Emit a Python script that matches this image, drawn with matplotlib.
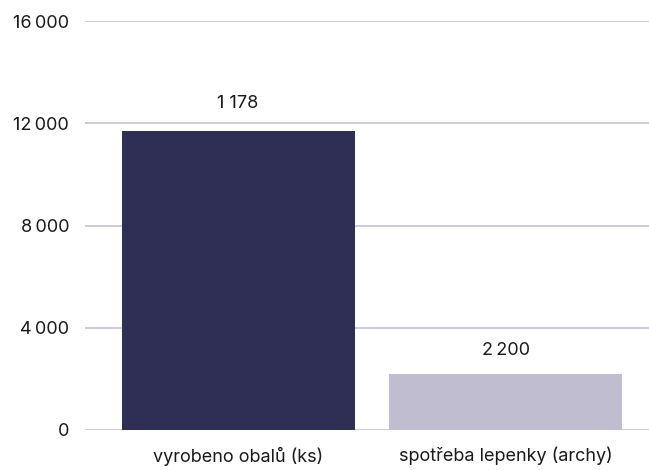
import matplotlib.pyplot as plt

# values
categories = ["vyrobeno obalů (ks)", "spotřeba lepenky (archy)"]
values = [11700, 2200]
value_labels = ["1 178", "2\u202f200"]
yticks = [0, 4000, 8000, 12000, 16000]
ytick_labels = ["0", "4\u202f000", "8\u202f000", "12\u202f000", "16\u202f000"]
colors = ["#2f2f55", "#c1bdd0"]

plt.rcParams['font.family'] = ['Inter', 'DejaVu Sans']

fig = plt.figure(figsize=(6.49, 4.70), dpi=100)
ax = fig.add_axes([85/649, 40/470, 564/649, 408.7/470])

x = range(len(categories))
bars = ax.bar(x, values, width=0.871, color=colors, zorder=2)

# value labels above the bars (baseline offset in pixels)
offsets = [23, 19]
for b, lab, off in zip(bars, value_labels, offsets):
    ax.annotate(lab, (b.get_x() + b.get_width()/2, b.get_height()),
                xytext=(0, off), textcoords='offset pixels',
                ha='center', va='baseline', fontsize=13, color='#1a1a1a')

ax.set_xlim(-0.572, 1.536)
ax.set_ylim(0, 16000)
ax.set_yticks(yticks)
ax.set_yticklabels(ytick_labels)
ax.set_xticks(list(x))
ax.set_xticklabels(categories)
ax.tick_params(axis='both', length=0, labelsize=13, colors='#1a1a1a')
ax.tick_params(axis='y', pad=11.5)
ax.tick_params(axis='x', pad=12)

ax.grid(axis='y', color='#c4c1d3', linewidth=1.2, zorder=0)
for s in ax.spines.values():
    s.set_visible(False)

fig.savefig("out.png", dpi=100)
